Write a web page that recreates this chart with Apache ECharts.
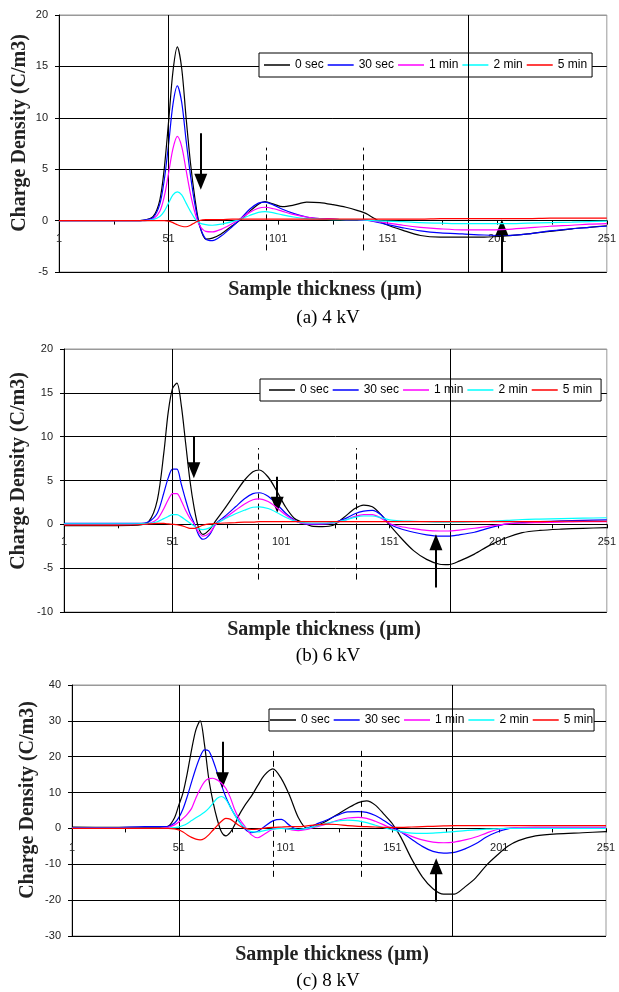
<!DOCTYPE html>
<html><head><meta charset="utf-8">
<script src="https://cdn.jsdelivr.net/npm/echarts@6/dist/echarts.min.js"></script>
<style>html,body{margin:0;padding:0;background:#fff}#c{width:619px;height:992px}</style>
</head><body><div id="c"></div>
<script>
// ---------- data ----------
const seriesNames = ['0 sec', '30 sec', '1 min', '2 min', '5 min'];
const xTickLabels = [1, 51, 101, 151, 201, 251];
const xTickMarks = [1, 26, 51, 76, 101, 126, 151, 176, 201, 226, 251];

// (a) 4 kV
const xA = [1,20,35,40,44, 47,49,51,53,55, 57,59,61,63,65, 68,71,75,80,84, 88,92,95,99,103, 108,114,120,126,132, 137,141,145,150,158, 166,175,185,195,205, 215,225,235,243,251];
const a0s  = [0,0,0,0.05,0.4, 2.0,5.0,9.6,14.5,16.9, 14.8,10.0,5.6,2.2,-0.3, -1.8,-1.7,-1.3,-0.5,0.1, 0.9,1.6,1.84,1.6,1.35, 1.5,1.8,1.75,1.55,1.3, 1.0,0.7,0.2,-0.35,-0.95, -1.45,-1.6,-1.6,-1.6,-1.5, -1.3,-1.05,-0.8,-0.65,-0.5];
const a30s = [0,0,0,0.05,0.3, 1.6,3.9,7.4,11.3,13.1, 11.5,7.8,4.4,1.6,-0.4, -1.8,-1.95,-1.5,-0.6,0.2, 1.1,1.7,1.8,1.5,1.1, 0.7,0.35,0.2,0.15,0.1, 0.1,0.05,-0.1,-0.35,-0.7, -1.0,-1.2,-1.3,-1.4,-1.45, -1.3,-1.0,-0.8,-0.65,-0.55];
const a1m  = [0,0,0,0,0.15, 0.9,2.3,4.6,7.0,8.2, 7.2,4.9,2.6,0.8,-0.4, -1.05,-1.1,-0.85,-0.3,0.2, 0.8,1.2,1.3,1.15,0.9, 0.6,0.35,0.2,0.15,0.1, 0.1,0.05,-0.05,-0.2,-0.45, -0.65,-0.8,-0.9,-0.9,-0.85, -0.7,-0.55,-0.45,-0.35,-0.3];
const a2m  = [0,0,0,0,0.1, 0.4,0.9,1.7,2.5,2.8, 2.5,1.7,0.9,0.2,-0.2, -0.4,-0.45,-0.35,-0.1,0.15, 0.5,0.8,0.87,0.75,0.55, 0.35,0.2,0.15,0.1,0.1, 0.1,0.05,0,-0.05,-0.1, -0.2,-0.25,-0.3,-0.3,-0.3, -0.25,-0.2,-0.15,-0.1,-0.05];
const a5m  = [0,0,0,0,0, 0,0,-0.05,-0.2,-0.4, -0.55,-0.6,-0.45,-0.2,0, 0.1,0.1,0.1,0.15,0.15, 0.15,0.15,0.15,0.15,0.15, 0.15,0.15,0.15,0.15,0.15, 0.15,0.15,0.15,0.15,0.15, 0.15,0.2,0.2,0.2,0.2, 0.2,0.25,0.25,0.25,0.25];

// (b) 6 kV
const xB = [1,20,35,40,44, 47,49,51,53,55, 57,59,61,63,65, 68,71,75,80,84, 88,91,95,99,103, 107,111,115,120,125, 130,135,139,143,147, 151,156,162,168,174, 178,183,190,197,205, 212,220,230,240,251];
const b0s  = [-0.15,-0.15,-0.1,0.3,2.8, 8.2,12.8,15.5,16.1,13.6, 9.3,5.0,1.8,-0.4,-1.15, -0.6,0.45,1.8,3.6,5.0, 6.0,6.2,5.4,3.8,2.0, 0.7,0.2,-0.2,-0.25,-0.1, 0.8,1.8,2.2,2.0,1.1, -0.1,-1.5,-3.0,-4.0,-4.55, -4.6,-4.2,-3.4,-2.4,-1.5, -0.95,-0.7,-0.55,-0.45,-0.38];
const b30s = [0.1,0.1,0.1,0.3,1.3, 3.6,5.3,6.3,6.3,4.6, 2.8,1.2,0.1,-1.2,-1.7, -1.2,0.1,0.9,2.0,2.9, 3.5,3.6,3.2,2.3,1.3, 0.5,0.1,0.0,0.05,0.2, 0.6,1.2,1.5,1.6,1.1, 0.05,-0.5,-0.9,-1.2,-1.35, -1.35,-1.2,-0.9,-0.4,0.05, 0.2,0.3,0.4,0.45,0.5];
const b1m  = [0,0,0,0.1,0.6, 1.8,2.8,3.5,3.5,2.7, 1.6,0.7,0,-0.9,-1.35, -1.0,0,0.7,1.6,2.3, 2.8,2.9,2.6,1.9,1.1, 0.45,0.1,0.05,0.05,0.15, 0.45,0.9,1.1,1.1,0.7, 0.1,-0.25,-0.5,-0.7,-0.76, -0.76,-0.65,-0.45,-0.2,0.05, 0.15,0.2,0.25,0.3,0.3];
const b2m  = [0.05,0.05,0.05,0.1,0.3, 0.65,0.9,1.1,1.1,0.85, 0.5,0.15,-0.2,-0.5,-0.6, -0.4,0.1,0.6,1.2,1.6, 1.95,2.0,1.8,1.35,0.8, 0.4,0.2,0.15,0.15,0.2, 0.45,0.8,0.95,0.95,0.75, 0.5,0.4,0.35,0.3,0.25, 0.25,0.25,0.3,0.35,0.45, 0.55,0.6,0.65,0.7,0.75];
const b5m  = [-0.1,-0.1,-0.05,0.05,0.1, 0.1,0.05,0,-0.05,-0.15, -0.3,-0.45,-0.45,-0.3,-0.1, 0.05,0.1,0.15,0.2,0.25, 0.25,0.3,0.3,0.3,0.3, 0.3,0.3,0.3,0.3,0.3, 0.3,0.3,0.3,0.3,0.3, 0.3,0.3,0.3,0.3,0.3, 0.3,0.3,0.3,0.3,0.3, 0.3,0.3,0.35,0.35,0.35];

// (c) 8 kV
const xC = [1,20,35,42,46, 49,51,53,55,57, 59,61,63,65,67, 69,71,73,75,77, 79,82,85,88,91, 95,99,103,107,111, 115,120,125,130,135, 139,143,147,151,155, 160,165,170,175,180, 185,190,195,200,205, 210,218,228,240,251];
const c0s  = [0.4,0.3,0.3,0.3,0.6, 3.0,6.5,10.0,15.5,22.0, 27.5,30.0,23.5,14.0,7.5, 2.5,-1.0,-2.1,-1.2,0.8, 3.5,6.5,9.0,12.0,14.8, 16.6,13.9,9.0,3.0,0.0, 0.6,2.0,3.8,5.6,7.2, 7.7,6.5,4.0,1.3,-2.5, -8.5,-13.5,-16.8,-18.3,-18.3, -16.3,-13.8,-10.3,-7.5,-5.0, -3.4,-2.1,-1.5,-1.2,-0.9];
const c30s = [0.2,0.2,0.5,0.5,0.6, 1.5,3.0,5.5,9.0,13.0, 16.8,20.0,21.9,21.6,19.0, 15.5,12.0,8.8,6.2,4.0, 2.2,-0.2,-1.2,-0.8,0.5, 2.1,2.5,0.8,-0.4,0.1, 1.1,2.3,3.6,4.6,4.7, 4.5,3.6,2.2,0.6,-1.0, -3.0,-5.0,-6.4,-6.9,-6.7, -5.7,-4.3,-2.4,-1.0,-0.1, 0.2,0.3,0.3,0.3,0.3];
const c1m  = [0,0,0,0.05,0.3, 1.0,1.8,2.8,4.0,5.6, 8.5,11.0,13.0,13.9,14.0, 13.5,12.6,11.2,8.8,5.5, 3.0,0.5,-1.8,-2.6,-1.6, -0.2,0.1,-0.3,-0.6,-0.3, 0.4,1.2,2.2,2.9,3.1, 2.8,2.0,1.0,-0.1,-1.0, -2.2,-3.2,-3.8,-4.0,-3.8, -3.2,-2.4,-1.3,-0.3,0.1, 0.2,0.2,0.2,0.2,0.2];
const c2m  = [0,0,0,0,0.05, 0.2,0.4,0.8,1.4,2.2, 3.0,3.7,4.5,5.6,7.0, 8.4,8.9,8.1,6.0,4.0, 2.0,0.2,-0.9,-1.0,-0.6, -0.2,0.0,-0.2,-0.3,0.0, 0.6,1.4,2.0,2.3,2.1, 1.6,0.9,0.2,-0.4,-0.9, -1.3,-1.4,-1.3,-1.1,-0.9, -0.6,-0.4,-0.2,-0.1,0, 0,0,0,0,0];
const c5m  = [0,0,0,0,0, -0.1,-0.4,-1.0,-1.8,-2.5, -3.0,-3.2,-2.8,-1.8,-0.5, 0.8,2.0,2.8,2.6,1.8, 0.9,0.0,-0.3,-0.2,0.1, 0.3,0.4,0.5,0.5,0.7, 1.0,1.2,1.1,0.8,0.6, 0.5,0.4,0.3,0.3,0.3, 0.4,0.5,0.6,0.7,0.8, 0.8,0.8,0.8,0.8,0.8, 0.8,0.8,0.8,0.8,0.8];

// annotations (data coordinates): solid verticals, dashed verticals, arrows [x, tail, tip]
const vLinesA = [51, 187.6], dashXA = [95.5, 139.9], dashYA = [-2.9, 7.1], arrowsA = [[65.7, 8.5, 3.0], [203.1, -5, 0.1]];
const vLinesB = [51, 178.9], dashXB = [90.4, 135.5], dashYB = [-6.3, 8.7], arrowsB = [[60.8, 10.0, 5.25], [99.2, 5.43, 1.32], [172.3, -7.2, -1.14]];
const vLinesC = [51.1, 179.2], dashXC = [95, 136.2], dashYC = [-13.5, 22.1], arrowsC = [[71.4, 24.2, 11.2], [171.5, -20.4, -8.3]];

// ---------- layout / style ----------
const colors = ['#000000', '#0000ff', '#ff00ff', '#00ffff', '#ff0000'];
const panels = [
  { x: xA, ys: [a0s, a30s, a1m, a2m, a5m], yMin: -5, yMax: 20, yInt: 5,
    grid: { left: 59, top: 15, width: 548, height: 257 },
    legend: { left: 259, top: 53, padding: [5, 5] }, labelMargin: 13,
    vLines: vLinesA, dashX: dashXA, dashY: dashYA, arrows: arrowsA,
    yTitle: [20, 133], xTitle: [325, 290], caption: [328, 318], captionText: '(a) 4 kV' },
  { x: xB, ys: [b0s, b30s, b1m, b2m, b5m], yMin: -10, yMax: 20, yInt: 5,
    grid: { left: 64, top: 349, width: 548, height: 263 },
    legend: { left: 260, top: 379, padding: [4, 9] }, labelMargin: 12,
    vLines: vLinesB, dashX: dashXB, dashY: dashYB, arrows: arrowsB,
    yTitle: [19, 471], xTitle: [324, 630], caption: [328, 656], captionText: '(b) 6 kV' },
  { x: xC, ys: [c0s, c30s, c1m, c2m, c5m], yMin: -30, yMax: 40, yInt: 10,
    grid: { left: 72, top: 685, width: 534, height: 251 },
    legend: { left: 269, top: 709, padding: [4, 1] }, labelMargin: 14,
    vLines: vLinesC, dashX: dashXC, dashY: dashYC, arrows: arrowsC,
    yTitle: [28, 800], xTitle: [332, 955], caption: [328, 981], captionText: '(c) 8 kV' }
];

const tickFont = { fontFamily: 'Liberation Sans, Arial, sans-serif', fontSize: 11, color: '#222' };
const grids = [], xAxes = [], yAxes = [], legends = [], series = [], graphics = [];

panels.forEach((p, pi) => {
  const pxPerUnit = p.grid.height / (p.yMax - p.yMin);
  grids.push(Object.assign({ show: true, borderColor: '#999', borderWidth: 1, backgroundColor: '#fff' }, p.grid));
  xAxes.push({
    type: 'value', gridIndex: pi, min: 1, max: 251, position: 'bottom',
    offset: -(0 - p.yMin) * pxPerUnit,
    axisLine: { onZero: false, lineStyle: { color: '#000', width: 1 } },
    axisTick: { show: true, customValues: xTickMarks, length: 4, inside: false, lineStyle: { color: '#000' } },
    axisLabel: Object.assign({ customValues: xTickLabels, margin: p.labelMargin }, tickFont),
    splitLine: { show: false }
  });
  const nLines = Math.round((p.yMax - p.yMin) / p.yInt) + 1;
  const lineColors = [];
  for (let i = 0; i < nLines; i++) lineColors.push(i === nLines - 1 ? '#999' : '#000');
  yAxes.push({
    type: 'value', gridIndex: pi, min: p.yMin, max: p.yMax, interval: p.yInt,
    axisLine: { show: true, onZero: false, lineStyle: { color: '#000', width: 1 } },
    axisTick: { show: true, length: 4, lineStyle: { color: '#000' } },
    axisLabel: Object.assign({ margin: 11 }, tickFont),
    splitLine: { show: true, lineStyle: { color: lineColors, width: 1 } }
  });
  legends.push({
    data: seriesNames, left: p.legend.left, top: p.legend.top, orient: 'horizontal',
    padding: p.legend.padding, itemGap: 4, itemWidth: 26, itemHeight: 1.5, icon: 'rect',
    borderColor: '#000', borderWidth: 1, backgroundColor: '#fff', borderRadius: 0,
    textStyle: { fontFamily: 'Liberation Sans, Arial, sans-serif', fontSize: 12, color: '#000', lineHeight: 14 },
    selectedMode: false
  });
  seriesNames.forEach((name, si) => {
    series.push({
      name, type: 'line', xAxisIndex: pi, yAxisIndex: pi,
      data: p.x.map((xv, j) => [xv, p.ys[si][j]]),
      smooth: 0.3, showSymbol: false, symbol: 'none',
      lineStyle: { color: colors[si], width: 1.2 }, itemStyle: { color: colors[si] },
      silent: true, z: 3 + si
    });
  });
  // annotation lines
  const halfHead = 8 / pxPerUnit;
  const mlData = [];
  p.vLines.forEach(v => mlData.push({ xAxis: v, lineStyle: { color: '#000', width: 1, type: 'solid' } }));
  p.dashX.forEach(v => mlData.push([
    { coord: [v, p.dashY[0]], lineStyle: { color: '#000', width: 1, type: [6, 4] } },
    { coord: [v, p.dashY[1]] }
  ]));
  series.push({
    type: 'line', xAxisIndex: pi, yAxisIndex: pi, data: [], silent: true, z: 2,
    markLine: { silent: true, symbol: 'none', label: { show: false }, animation: false, data: mlData }
  });
  const arData = p.arrows.map(a => {
    const dir = a[2] > a[1] ? 1 : -1;
    return [
      { coord: [a[0], a[1]] },
      { coord: [a[0], a[2] - dir * halfHead] }
    ];
  });
  series.push({
    type: 'line', xAxisIndex: pi, yAxisIndex: pi, data: [], silent: true, z: 20,
    markLine: {
      silent: true, symbol: ['none', 'triangle'], symbolSize: [13, 16], label: { show: false }, animation: false,
      lineStyle: { color: '#000', width: 2, type: 'solid' }, data: arData
    }
  });
  // texts
  graphics.push({ type: 'text', x: p.yTitle[0], y: p.yTitle[1], rotation: Math.PI / 2, z: 50,
    style: { text: 'Charge Density (C/m3)', font: 'bold 20px "Liberation Serif", "Times New Roman", serif', fill: '#222', align: 'center', verticalAlign: 'middle' } });
  graphics.push({ type: 'text', x: p.xTitle[0], y: p.xTitle[1], z: 50,
    style: { text: 'Sample thickness (µm)', font: 'bold 20px "Liberation Serif", "Times New Roman", serif', fill: '#222', align: 'center', verticalAlign: 'middle' } });
  graphics.push({ type: 'text', x: p.caption[0], y: p.caption[1], z: 50,
    style: { text: p.captionText, font: '19px "Liberation Serif", "Times New Roman", serif', fill: '#000', align: 'center', verticalAlign: 'middle' } });
});

const chart = echarts.init(document.getElementById('c'), null, { renderer: 'canvas' });
chart.setOption({
  animation: false,
  backgroundColor: '#fff',
  grid: grids, xAxis: xAxes, yAxis: yAxes, legend: legends, series: series, graphic: graphics
});
</script></body></html>
